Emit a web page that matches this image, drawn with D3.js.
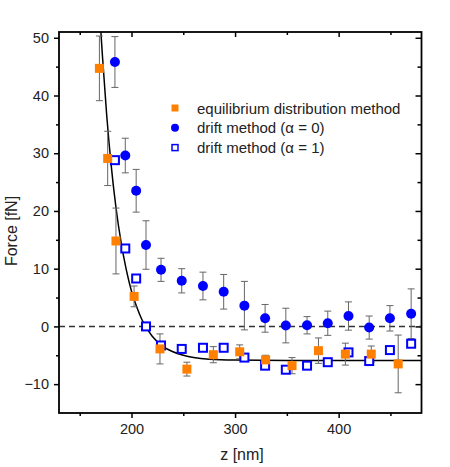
<!DOCTYPE html>
<html>
<head>
<meta charset="utf-8">
<script src="https://cdn.jsdelivr.net/npm/d3@7"></script>
<style>
  body { margin: 0; background: #fff; }
  svg { font-family: "Liberation Sans", Arial, Helvetica, sans-serif; }
  .axis text { fill: #222; font-size: 14.5px; }
  .axis line { stroke: #000; stroke-width: 1.5; }
  .axis path { display: none; }
</style>
</head>
<body>
<svg width="450" height="467"></svg>
<script>
// equilibrium distribution method
var eqZ   = [169, 177, 185, 202.5, 227.5, 253.5, 279, 304.5, 329.5, 355, 380.5, 406.5, 431.5, 457.5];
var eqF   = [44.7, 29.1, 14.8, 5.2, -3.9, -7.4, -4.9, -4.4, -5.8, -6.8, -4.2, -4.8, -4.8, -6.5];
var eqErr = [5.6, 4.7, 5.7, 1.8, 2.6, 1.2, 1.4, 1.2, 0.8, 1.4, 2.2, 1.9, 1.4, 5.0];

// drift method, alpha = 0 and alpha = 1
var driftZ    = [184, 194, 204.5, 214, 228.5, 248.5, 269, 289, 309, 329, 349, 369.5, 389.5, 409.5, 429.5, 449.5, 470];
var drift0F   = [45.8, 29.6, 23.5, 14.1, 9.8, 7.9, 7.0, 6.0, 3.6, 1.4, 0.15, 0.2, 0.55, 1.8, -0.2, 1.4, 2.2];
var drift0Err = [4.4, 3.0, 3.7, 4.2, 2.0, 2.1, 2.4, 3.0, 4.2, 2.4, 3.0, 1.5, 2.1, 2.45, 2.0, 2.2, 4.3];
var drift1F   = [28.8, 13.5, 8.3, 0.0, -3.3, -3.9, -3.7, -3.7, -5.4, -6.8, -7.5, -6.8, -6.2, -4.5, -6.0, -4.1, -3.0];

// fitted curve
var fitZ = [166, 168, 172, 176, 180, 185, 190, 195, 200, 205, 210, 215, 220, 230, 240, 250, 260, 275, 300, 350, 480];
var fitF = [68, 59.0, 46.7, 36.7, 28.6, 20.6, 14.5, 9.8, 6.1, 3.4, 1.2, -0.4, -1.7, -3.4, -4.4, -5.0, -5.4, -5.7, -5.84, -5.9, -5.9];

var xMajor = [200, 300, 400], xMinor = [150, 250, 350, 450];
var yMajor = [50, 40, 30, 20, 10, 0, -10], yMinor = [45, 35, 25, 15, 5, -5];

var legendLabels = ["equilibrium distribution method", "drift method (\u03b1 = 0)", "drift method (\u03b1 = 1)"];

var svg = d3.select("svg"),
    margin = {top: 32, left: 59},
    width = 362.5,
    height = 381;

var x = d3.scaleLinear().domain([130, 480]).range([0, width]);
var y = d3.scaleLinear().domain([-15, 51]).range([height, 0]);

var g = svg.append("g").attr("transform", "translate(" + margin.left + "," + margin.top + ")");

svg.append("defs").append("clipPath").attr("id", "clip")
  .append("rect").attr("width", width).attr("height", height);

// axes: left/bottom outward, top/right inward
g.append("g").attr("class", "axis").attr("transform", "translate(0," + height + ")")
  .call(d3.axisBottom(x).tickValues(xMajor).tickSize(5).tickPadding(6).tickFormat(d3.format("d")));
g.append("g").attr("class", "axis").attr("transform", "translate(0," + height + ")")
  .call(d3.axisBottom(x).tickValues(xMinor).tickSize(3).tickFormat(""));
g.append("g").attr("class", "axis")
  .call(d3.axisTop(x).tickValues(xMajor).tickSize(-5).tickFormat(""));
g.append("g").attr("class", "axis")
  .call(d3.axisTop(x).tickValues(xMinor).tickSize(-3).tickFormat(""));

g.append("g").attr("class", "axis")
  .call(d3.axisLeft(y).tickValues(yMajor).tickSize(5).tickPadding(5).tickFormat(d3.format("d")));
g.append("g").attr("class", "axis")
  .call(d3.axisLeft(y).tickValues(yMinor).tickSize(3).tickFormat(""));
g.append("g").attr("class", "axis").attr("transform", "translate(" + width + ",0)")
  .call(d3.axisRight(y).tickValues(yMajor).tickSize(-6).tickFormat(""));
g.append("g").attr("class", "axis").attr("transform", "translate(" + width + ",0)")
  .call(d3.axisRight(y).tickValues(yMinor).tickSize(-4).tickFormat(""));

var plot = g.append("g").attr("clip-path", "url(#clip)");

// zero line
plot.append("line")
  .attr("x1", 0).attr("x2", width)
  .attr("y1", y(0)).attr("y2", y(0))
  .attr("stroke", "#333").attr("stroke-width", 1.5)
  .attr("stroke-dasharray", "6,4");

// fit curve
var fitData = fitZ.map(function(z, i) { return {z: z, f: fitF[i]}; });
plot.append("path")
  .datum(fitData)
  .attr("fill", "none")
  .attr("stroke", "#000")
  .attr("stroke-width", 1.5)
  .attr("d", d3.line().curve(d3.curveMonotoneX)
    .x(function(d) { return x(d.z); })
    .y(function(d) { return y(d.f); }));

function errorBars(zs, fs, errs) {
  var data = zs.map(function(z, i) { return {z: z, f: fs[i], e: errs[i]}; });
  var eb = g.append("g").attr("stroke", "#666").attr("stroke-width", 1);
  var sel = eb.selectAll("g").data(data).enter().append("g");
  sel.append("line")
    .attr("x1", function(d) { return x(d.z); }).attr("x2", function(d) { return x(d.z); })
    .attr("y1", function(d) { return y(d.f + d.e); }).attr("y2", function(d) { return y(d.f - d.e); });
  [1, -1].forEach(function(s) {
    sel.append("line")
      .attr("x1", function(d) { return x(d.z) - 3.5; }).attr("x2", function(d) { return x(d.z) + 3.5; })
      .attr("y1", function(d) { return y(d.f + s * d.e); }).attr("y2", function(d) { return y(d.f + s * d.e); });
  });
}

errorBars(driftZ, drift0F, drift0Err);
errorBars(eqZ, eqF, eqErr);

// open squares (alpha = 1)
g.append("g").selectAll("rect").data(driftZ).enter().append("rect")
  .attr("x", function(d) { return x(d) - 4; })
  .attr("y", function(d, i) { return y(drift1F[i]) - 4; })
  .attr("width", 8).attr("height", 8)
  .attr("fill", "#fff").attr("stroke", "#0000ff").attr("stroke-width", 2);

// filled circles (alpha = 0)
g.append("g").selectAll("circle").data(driftZ).enter().append("circle")
  .attr("cx", function(d) { return x(d); })
  .attr("cy", function(d, i) { return y(drift0F[i]); })
  .attr("r", 5)
  .attr("fill", "#0000ff");

// orange squares
g.append("g").selectAll("rect").data(eqZ).enter().append("rect")
  .attr("x", function(d) { return x(d) - 4.5; })
  .attr("y", function(d, i) { return y(eqF[i]) - 4.5; })
  .attr("width", 9).attr("height", 9)
  .attr("fill", "#ff8000");

// frame
g.append("rect")
  .attr("width", width).attr("height", height)
  .attr("fill", "none").attr("stroke", "#000").attr("stroke-width", 1.8);

// legend
var legend = svg.append("g").attr("transform", "translate(175,108)");
legendLabels.forEach(function(label, i) {
  var row = legend.append("g").attr("transform", "translate(0," + (i * 19.8) + ")");
  if (i === 0) {
    row.append("rect").attr("x", -3.5).attr("y", -3.5).attr("width", 7).attr("height", 7).attr("fill", "#ff8000");
  } else if (i === 1) {
    row.append("circle").attr("r", 4).attr("fill", "#0000ff");
  } else {
    row.append("rect").attr("x", -3).attr("y", -3).attr("width", 6).attr("height", 6)
      .attr("fill", "#fff").attr("stroke", "#0000ff").attr("stroke-width", 1.5);
  }
  row.append("text").attr("x", 22).attr("y", 5.5)
    .attr("font-size", "15px").attr("fill", "#222").text(label);
});

// axis titles
svg.append("text")
  .attr("transform", "translate(17,231) rotate(-90)")
  .attr("text-anchor", "middle")
  .attr("font-size", "16px").attr("fill", "#222")
  .text("Force [fN]");

svg.append("text")
  .attr("x", 242).attr("y", 460)
  .attr("text-anchor", "middle")
  .attr("font-size", "16px").attr("fill", "#222")
  .text("z [nm]");
</script>
</body>
</html>
